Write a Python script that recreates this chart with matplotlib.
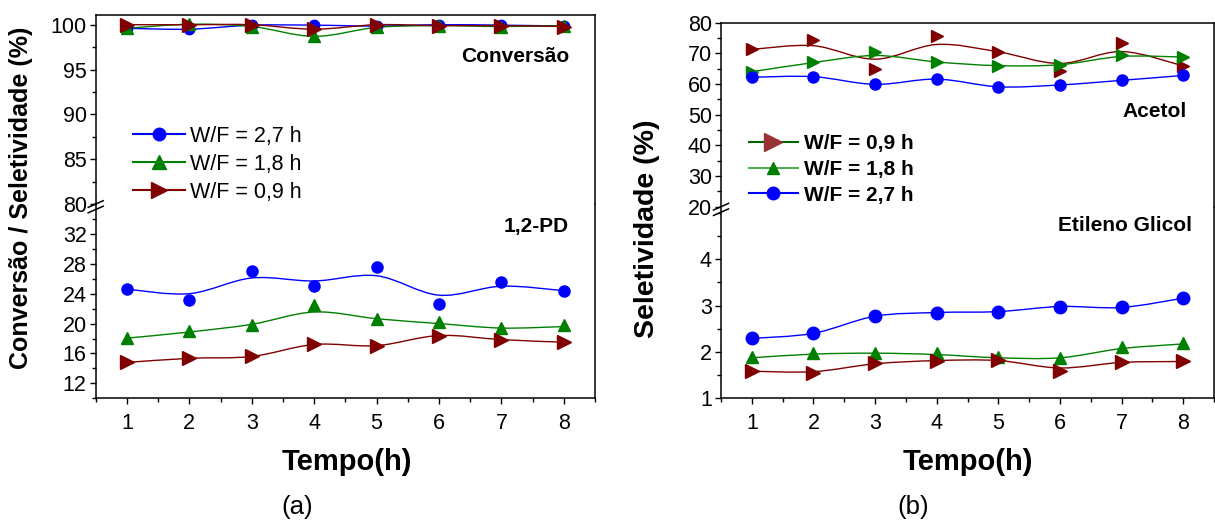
import numpy as np
import matplotlib.pyplot as plt
from matplotlib.path import Path
from matplotlib.patches import PathPatch
from matplotlib.lines import Line2D
from matplotlib.ticker import MultipleLocator

plt.rcParams['font.family'] = ['Liberation Sans', 'DejaVu Sans']

W, H = 1215, 521

tempo = [1, 2, 3, 4, 5, 6, 7, 8]

# (a) conversao
conv_27 = [99.6, 99.5, 99.95, 99.95, 99.85, 100.0, 99.95, 99.85]
conv_18 = [99.6, 100.05, 99.8, 98.7, 99.7, 99.9, 99.8, 99.9]
conv_09 = [100.0, 100.0, 100.0, 99.5, 100.0, 99.9, 99.9, 99.8]

# (a) seletividade 1,2-PD (pontos e curva suavizada)
pd_27 = [24.6, 23.15, 27.0, 25.0, 27.6, 22.6, 25.55, 24.4]
pd_27_curva = [24.6, 24.0, 26.1, 25.7, 26.4, 23.8, 25.0, 24.4]
pd_18 = [18.05, 19.05, 19.75, 22.5, 20.6, 20.2, 19.4, 19.8]
pd_18_curva = [18.05, 18.87, 19.9, 21.55, 20.65, 20.0, 19.4, 19.6]
pd_09 = [14.8, 15.35, 15.6, 17.2, 17.05, 18.4, 17.85, 17.5]

# (b) acetol
ac_09 = [71.3, 74.35, 64.8, 75.65, 70.5, 64.35, 73.3, 65.9]
ac_09_curva = [71.3, 72.5, 68.1, 72.9, 70.5, 66.7, 70.6, 65.9]
ac_18 = [64.0, 67.2, 70.5, 67.3, 66.0, 66.2, 69.5, 68.9]
ac_18_curva = [64.0, 67.0, 69.3, 67.2, 66.0, 66.3, 69.0, 68.8]
ac_27 = [62.2, 62.4, 59.9, 61.6, 59.1, 59.7, 61.2, 62.8]

# (b) etileno glicol
eg_27 = [2.29, 2.40, 2.77, 2.85, 2.87, 2.98, 2.96, 3.16]
eg_18 = [1.88, 1.97, 1.98, 1.97, 1.88, 1.86, 2.11, 2.20]
eg_18_curva = [1.87, 1.95, 1.97, 1.94, 1.87, 1.87, 2.07, 2.17]
eg_09 = [1.58, 1.54, 1.75, 1.80, 1.82, 1.59, 1.77, 1.79]
eg_09_curva = [1.58, 1.57, 1.74, 1.81, 1.81, 1.65, 1.77, 1.79]

AZUL = '#0000FF'
VERDE = '#008000'
VINHO = '#800000'


def pos(x0, y0, x1, y1):
    # caixa em pixels (origem no topo) -> fracao da figura
    return [x0 / W, 1 - y1 / H, (x1 - x0) / W, (y1 - y0) / H]


def curva(ax, x, y, cor):
    # spline (catmull-rom) desenhada como curva bezier nos dados
    x = np.asarray(x, float)
    y = np.asarray(y, float)
    px = np.r_[x[0], x, x[-1]]
    py = np.r_[y[0], y, y[-1]]
    verts = [(x[0], y[0])]
    codes = [Path.MOVETO]
    for i in range(1, len(px) - 2):
        c1 = (px[i] + (px[i + 1] - px[i - 1]) / 6, py[i] + (py[i + 1] - py[i - 1]) / 6)
        c2 = (px[i + 1] - (px[i + 2] - px[i]) / 6, py[i + 1] - (py[i + 2] - py[i]) / 6)
        verts += [c1, c2, (px[i + 1], py[i + 1])]
        codes += [Path.CURVE4] * 3
    ax.add_patch(PathPatch(Path(verts, codes), fill=False, edgecolor=cor, lw=1))


def pontos(ax, y, cor, mk, ms):
    ax.plot(tempo, y, ls='none', marker=mk, ms=ms, color=cor, mec=cor)


def estilo(ax, topo):
    for s in ax.spines.values():
        s.set_linewidth(1.1)
    ax.tick_params(axis='both', which='both', direction='out', labelsize=15.5,
                   right=False, top=False)
    ax.tick_params(which='major', length=4.5, width=1)
    ax.tick_params(which='minor', length=3, width=1)
    ax.tick_params(axis='y', pad=2)
    ax.tick_params(axis='x', pad=6)
    ax.set_xlim(0.5, 8.5)
    ax.xaxis.set_major_locator(MultipleLocator(1))
    ax.xaxis.set_minor_locator(MultipleLocator(0.5))
    if topo:
        ax.spines['bottom'].set_visible(False)
        ax.tick_params(axis='x', which='both', bottom=False, labelbottom=False)
    else:
        ax.spines['top'].set_visible(False)


def quebra(fig, ax, dy):
    # marcas "//" na juncao dos dois eixos
    xs, ys = ax.transAxes.transform((0, 1))
    for off in (0, -5.5):
        yc = ys + dy + off
        fig.add_artist(Line2D([xs - 7.5, xs + 7.5], [yc - 3.3, yc + 3.3],
                              transform=None, color='k', lw=1.1))


fig = plt.figure(figsize=(W / 100, H / 100), dpi=100)

# ---------- (a) ----------
a1 = fig.add_axes(pos(95.7, 15.3, 595, 204))
a2 = fig.add_axes(pos(95.7, 204, 595, 398.3))
for ax, t in ((a1, True), (a2, False)):
    estilo(ax, t)

for y, cor, mk, ms in ((conv_27, AZUL, 'o', 7.5), (conv_18, VERDE, '^', 9), (conv_09, VINHO, '>', 10)):
    curva(a1, tempo, y, cor)
    pontos(a1, y, cor, mk, ms)
a1.set_ylim(80, 101.05)
a1.yaxis.set_major_locator(MultipleLocator(5))
a1.yaxis.set_minor_locator(MultipleLocator(2.5))

for y, yc, cor, mk, ms in ((pd_27, pd_27_curva, AZUL, 'o', 8), (pd_18, pd_18_curva, VERDE, '^', 9),
                           (pd_09, pd_09, VINHO, '>', 10)):
    curva(a2, tempo, yc, cor)
    pontos(a2, y, cor, mk, ms)
a2.set_ylim(10, 36)
a2.set_yticks([12, 16, 20, 24, 28, 32])
a2.yaxis.set_minor_locator(MultipleLocator(2))

a1.text(0.948, 0.78, 'Conversão', transform=a1.transAxes, ha='right', va='center',
        fontsize=15, weight='bold')
a2.text(0.948, 0.885, '1,2-PD', transform=a2.transAxes, ha='right', va='center',
        fontsize=15, weight='bold')

h_a = [Line2D([], [], color=AZUL, marker='o', ms=9),
       Line2D([], [], color=VERDE, marker='^', ms=10),
       Line2D([], [], color=VINHO, marker='>', ms=11)]
a1.legend(h_a, ['W/F = 2,7 h', 'W/F = 1,8 h', 'W/F = 0,9 h'], loc='upper left',
          bbox_to_anchor=(133 / W, 1 - 126 / H), bbox_transform=fig.transFigure,
          frameon=False, fontsize=15.5, handlelength=2.4, handletextpad=0.25,
          labelspacing=0.32, borderpad=0, borderaxespad=0)
quebra(fig, a2, 0)

fig.text(21.5 / W, 1 - 198 / H, 'Conversão / Seletividade (%)', rotation=90,
         ha='center', va='center', fontsize=18, weight='bold')
fig.text(346.7 / W, 1 - 462 / H, 'Tempo(h)', ha='center', va='center',
         fontsize=21, weight='bold')
fig.text(297.5 / W, 1 - 507 / H, '(a)', ha='center', va='center', fontsize=18.5)

# ---------- (b) ----------
b1 = fig.add_axes(pos(721, 22.7, 1214, 206.7))
b2 = fig.add_axes(pos(721, 206.7, 1214, 398))
for ax, t in ((b1, True), (b2, False)):
    estilo(ax, t)

for y, yc, cor, mk, ms in ((ac_09, ac_09_curva, VINHO, '>', 9), (ac_18, ac_18_curva, VERDE, '>', 9),
                           (ac_27, ac_27, AZUL, 'o', 8)):
    curva(b1, tempo, yc, cor)
    pontos(b1, y, cor, mk, ms)
b1.set_ylim(20, 80)
b1.yaxis.set_major_locator(MultipleLocator(10))
b1.yaxis.set_minor_locator(MultipleLocator(5))

for y, yc, cor, mk, ms in ((eg_27, eg_27, AZUL, 'o', 9), (eg_18, eg_18_curva, VERDE, '^', 9),
                           (eg_09, eg_09_curva, VINHO, '>', 10)):
    curva(b2, tempo, yc, cor)
    pontos(b2, y, cor, mk, ms)
b2.set_ylim(1, 5.14)
b2.set_yticks([1, 2, 3, 4])
b2.yaxis.set_minor_locator(MultipleLocator(0.5))

b1.text(0.945, 0.515, 'Acetol', transform=b1.transAxes, ha='right', va='center',
        fontsize=15, weight='bold')
b2.text(0.955, 0.9, 'Etileno Glicol', transform=b2.transAxes, ha='right', va='center',
        fontsize=15, weight='bold')

h_b = [Line2D([], [], color='#006400', marker='>', ms=13, mfc='#993333', mec='#993333'),
       Line2D([], [], color='#55AA55', marker='^', ms=9, mfc=VERDE, mec=VERDE),
       Line2D([], [], color=AZUL, marker='o', ms=9)]
b1.legend(h_b, ['W/F = 0,9 h', 'W/F = 1,8 h', 'W/F = 2,7 h'], loc='upper left',
          bbox_to_anchor=(749 / W, 1 - 134 / H), bbox_transform=fig.transFigure,
          frameon=False, prop={'size': 15, 'weight': 'bold'}, handlelength=2.35,
          handletextpad=0.3, labelspacing=0.33, borderpad=0, borderaxespad=0)
quebra(fig, b2, 0)

fig.text(647 / W, 1 - 229 / H, 'Seletividade (%)', rotation=90,
         ha='center', va='center', fontsize=20.5, weight='bold')
fig.text(968 / W, 1 - 462 / H, 'Tempo(h)', ha='center', va='center',
         fontsize=21, weight='bold')
fig.text(913 / W, 1 - 507 / H, '(b)', ha='center', va='center', fontsize=18.5)

fig.savefig('out.png', dpi=100)
